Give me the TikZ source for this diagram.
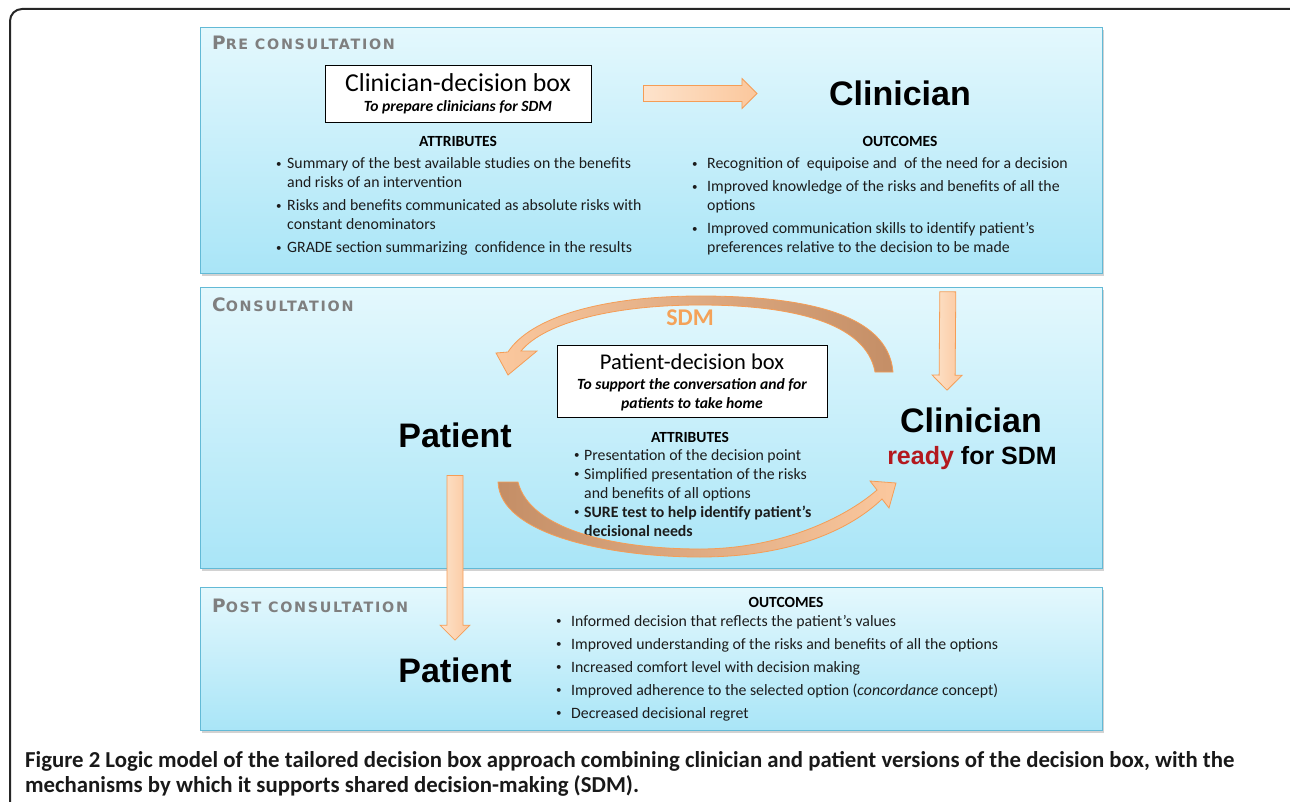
\documentclass[tikz,border=0pt]{standalone}
\usepackage{fontspec}
\setmainfont{Carlito}
\newfontfamily\arialfont{Liberation Sans}
\newfontfamily\stagefont[LetterSpace=12]{DejaVu Sans}
\usetikzlibrary{positioning, calc, shadows}
\definecolor{panelline}{HTML}{63BAD6}
\definecolor{paneltop}{HTML}{E4F8FD}
\definecolor{panelbottom}{HTML}{A9E5F7}
\definecolor{arrowline}{HTML}{F59D56}
\definecolor{arrowlight}{HTML}{FDE3CC}
\definecolor{arrowdark}{HTML}{FBC79C}
\definecolor{sdmlight}{HTML}{FBC89E}
\definecolor{sdmdark}{HTML}{C48E66}
\definecolor{stagegray}{HTML}{7F7F7F}
\definecolor{readyred}{HTML}{B3191E}
\definecolor{sdmorange}{HTML}{F4A259}
\definecolor{bodytext}{HTML}{1C1C1C}
\newcommand{\bul}[1]{\makebox[#1][l]{\raisebox{1.2pt}{\fontsize{11}{11}\selectfont\textbullet}}}
\newcommand{\stagename}[2]{{\fontsize{18.5}{20}\selectfont #1}{\fontsize{14.3}{16}\selectfont #2}}
\tikzset{
panel/.style = { rectangle, draw = panelline, line width = 0.8pt, top color = paneltop, bottom color = panelbottom, anchor = north west, inner sep = 0pt, drop shadow = {shadow xshift = 2pt, shadow yshift = -3pt, fill = black!35, opacity = 0.5} },
stage/.style = { text = stagegray, font = \stagefont\bfseries, inner sep = 0pt, anchor = base west },
decbox/.style = { rectangle, draw = black, line width = 0.8pt, fill = white, inner sep = 0pt },
bigname/.style = { font = \arialfont\bfseries\fontsize{34}{40}\selectfont, inner sep = 0pt, anchor = base },
listhead/.style = { font = \bfseries\fontsize{15.5}{19}\selectfont, inner sep = 0pt, anchor = base },
bullets/.style = { font = \fontsize{15.8}{19}\selectfont, text = bodytext, inner sep = 0pt, anchor = base west },
fat arrow/.style = { draw = arrowline, line width = 0.8pt, left color = arrowlight, right color = arrowdark,
    to path = { let \p1 = (\tikztostart), \p2 = (\tikztotarget), \n1 = {atan2(\y2-\y1, \x2-\x1)}, \n2 = {veclen(\x2-\x1, \y2-\y1)} in
    (\p1) ++(\n1+90:8pt) -- ++(\n1:\n2-15pt) -- ++(\n1+90:7pt) -- (\p2) -- ++(\n1-135:21.21pt) -- ++(\n1+90:7pt) -- ++(\n1+180:\n2-15pt) -- cycle } },
bent arrow/.style = { draw = arrowline, line width = 0.8pt },
}

\begin{document}
\begin{tikzpicture}[x = 1pt, y = -1pt]
    \useasboundingbox (0,0) rectangle (1290,802);
    \draw[line width = 2pt, draw = black!85, rounded corners = 12pt] (10,815) -- (10,9) -- (1300,9);
    % panels
    \node[panel, minimum width = 902pt, minimum height = 246pt] (pre) at (200,27) {};
    \node[panel, minimum width = 902pt, minimum height = 281pt] (cons) at (200,287) {};
    \node[panel, minimum width = 902pt, minimum height = 143pt] (post) at (200,587) {};
    \node[stage] (prelabel) at (212,50) {\stagename{P}{RE CONSULTATION}};
    \node[stage] (conslabel) at (212,312) {\stagename{C}{ONSULTATION}};
    \node[stage] (postlabel) at (212,612) {\stagename{P}{OST CONSULTATION}};
    % pre consultation
    \node[decbox, minimum width = 266pt, minimum height = 57pt] (cdbox) at (458,93.5) {};
    \node[inner sep = 0pt, anchor = base, font = \fontsize{25.8}{28}\selectfont] (cdtitle) at (458,92) {Clinician-decision box};
    \node[inner sep = 0pt, anchor = base, font = \bfseries\itshape\fontsize{15.6}{19}\selectfont] (cdsub) at (458,112) {To prepare clinicians for SDM};
    \node[bigname] (clinpre) at (900,106) {Clinician};
    \node[listhead] (attrhead) at (458,147) {ATTRIBUTES};
    \node[bullets] (attrlist) at (276,169) {\begin{tabular}[t]{@{}l@{}l@{}}
        \bul{11pt} & Summary of the best available studies on the benefits\\
        & and risks of an intervention\\[4pt]
        \bul{11pt} & Risks and benefits communicated as absolute risks with\\
        & constant denominators\\[4pt]
        \bul{11pt} & GRADE section summarizing\ \ confidence in the results
        \end{tabular}};
    \node[listhead] (outhead) at (900,147) {OUTCOMES};
    \node[bullets] (outlist) at (692,169) {\begin{tabular}[t]{@{}l@{}l@{}}
        \bul{15pt} & Recognition of\ \ equipoise and\ \ of the need for a decision\\[4pt]
        \bul{15pt} & Improved knowledge of the risks and benefits of all the\\
        & options\\[4pt]
        \bul{15pt} & Improved communication skills to identify patient’s\\
        & preferences relative to the decision to be made
        \end{tabular}};
    % consultation
    \node[decbox, minimum width = 270pt, minimum height = 72pt] (pdbox) at (692,381) {};
    \node[inner sep = 0pt, anchor = base, font = \fontsize{22.5}{26}\selectfont] (pdtitle) at (692,369) {Patient-decision box};
    \node[inner sep = 0pt, anchor = base, font = \bfseries\itshape\fontsize{15.6}{19}\selectfont] (pdsub) at (692,389) {\begin{tabular}[t]{@{}c@{}}
        To support the conversation and for\\
        patients to take home
        \end{tabular}};
    \node[bigname] (patcons) at (455,447) {Patient};
    \node[bigname] (clincons) at (971,432) {Clinician};
    \node[inner sep = 0pt, anchor = base, font = \arialfont\bfseries\fontsize{25}{30}\selectfont] (readysdm) at (972,464) {\textcolor{readyred}{ready} for SDM};
    \node[listhead] (pattrhead) at (690,442) {ATTRIBUTES};
    \node[bullets] (pattrlist) at (574,460) {\begin{tabular}[t]{@{}l@{}l@{}}
        \bul{10pt} & Presentation of the decision point\\
        \bul{10pt} & Simplified presentation of the risks\\
        & and benefits of all options\\
        \bul{10pt} & \textbf{SURE test to help identify patient’s}\\
        & \textbf{decisional needs}
        \end{tabular}};
    % SDM loop
    \coordinate (sdmR) at (884,372);
    \coordinate (sdmL) at (508,375);
    \path[bent arrow, left color = sdmlight, right color = sdmdark]
        ([xshift = 9pt]sdmR) .. controls (888,312) and (800,296) .. (700,296) .. controls (600,296) and (530,318) .. (508,352)
        -- (496,353) -- (sdmL) -- (537,351) -- (521,351)
        .. controls (545,322) and (615,305) .. (700,305) .. controls (790,305) and (866,322) .. ([xshift = -9pt]sdmR) -- cycle;
    \node[inner sep = 0pt, font = \bfseries\fontsize{24}{26}\selectfont, text = sdmorange] (sdmtext) at (690,318) {SDM};
    \coordinate (backL) at (508,482);
    \coordinate (backR) at (896,483);
    \path[bent arrow, left color = sdmdark, right color = sdmlight]
        ([xshift = -10pt]backL) .. controls (500,535) and (610,557) .. (700,557) .. controls (790,557) and (850,530) .. (882,499)
        -- (889,508) -- (backR) -- (870,481) -- (877,490)
        .. controls (845,518) and (780,549) .. (700,549) .. controls (615,549) and (530,530) .. ([xshift = 10pt]backL) -- cycle;
    % post consultation
    \node[bigname] (patpost) at (455,682) {Patient};
    \node[listhead] (postouthead) at (786,607) {OUTCOMES};
    \node[bullets] (postoutlist) at (556,626) {\begin{tabular}[t]{@{}l@{}l@{}}
        \bul{15pt} & Informed decision that reflects the patient’s values\\[4pt]
        \bul{15pt} & Improved understanding of the risks and benefits of all the options\\[4pt]
        \bul{15pt} & Increased comfort level with decision making\\[4pt]
        \bul{15pt} & Improved adherence to the selected option (\textit{concordance} concept)\\[4pt]
        \bul{15pt} & Decreased decisional regret
        \end{tabular}};
    % straight arrows
    \draw[fat arrow] ([xshift = 52pt]cdbox.east) to ([xshift = -72pt]clinpre.west |- cdbox.east);
    \draw[fat arrow] ([shift = {(-155pt,-18pt)}]pre.south east) to ([shift = {(-24pt,17pt)}]clincons.north);
    \draw[fat arrow] ([yshift = -28pt]patcons.south) to ([yshift = 17pt]patpost.north);
    % caption
    \node[inner sep = 0pt, anchor = base west, font = \bfseries\fontsize{22.8}{25.5}\selectfont, text = black!90] (caption) at (25,767) {\begin{tabular}[t]{@{}l@{}}
        Figure 2 Logic model of the tailored decision box approach combining clinician and patient versions of the decision box, with the\\
        mechanisms by which it supports shared decision-making (SDM).
        \end{tabular}};
\end{tikzpicture}
\end{document}
